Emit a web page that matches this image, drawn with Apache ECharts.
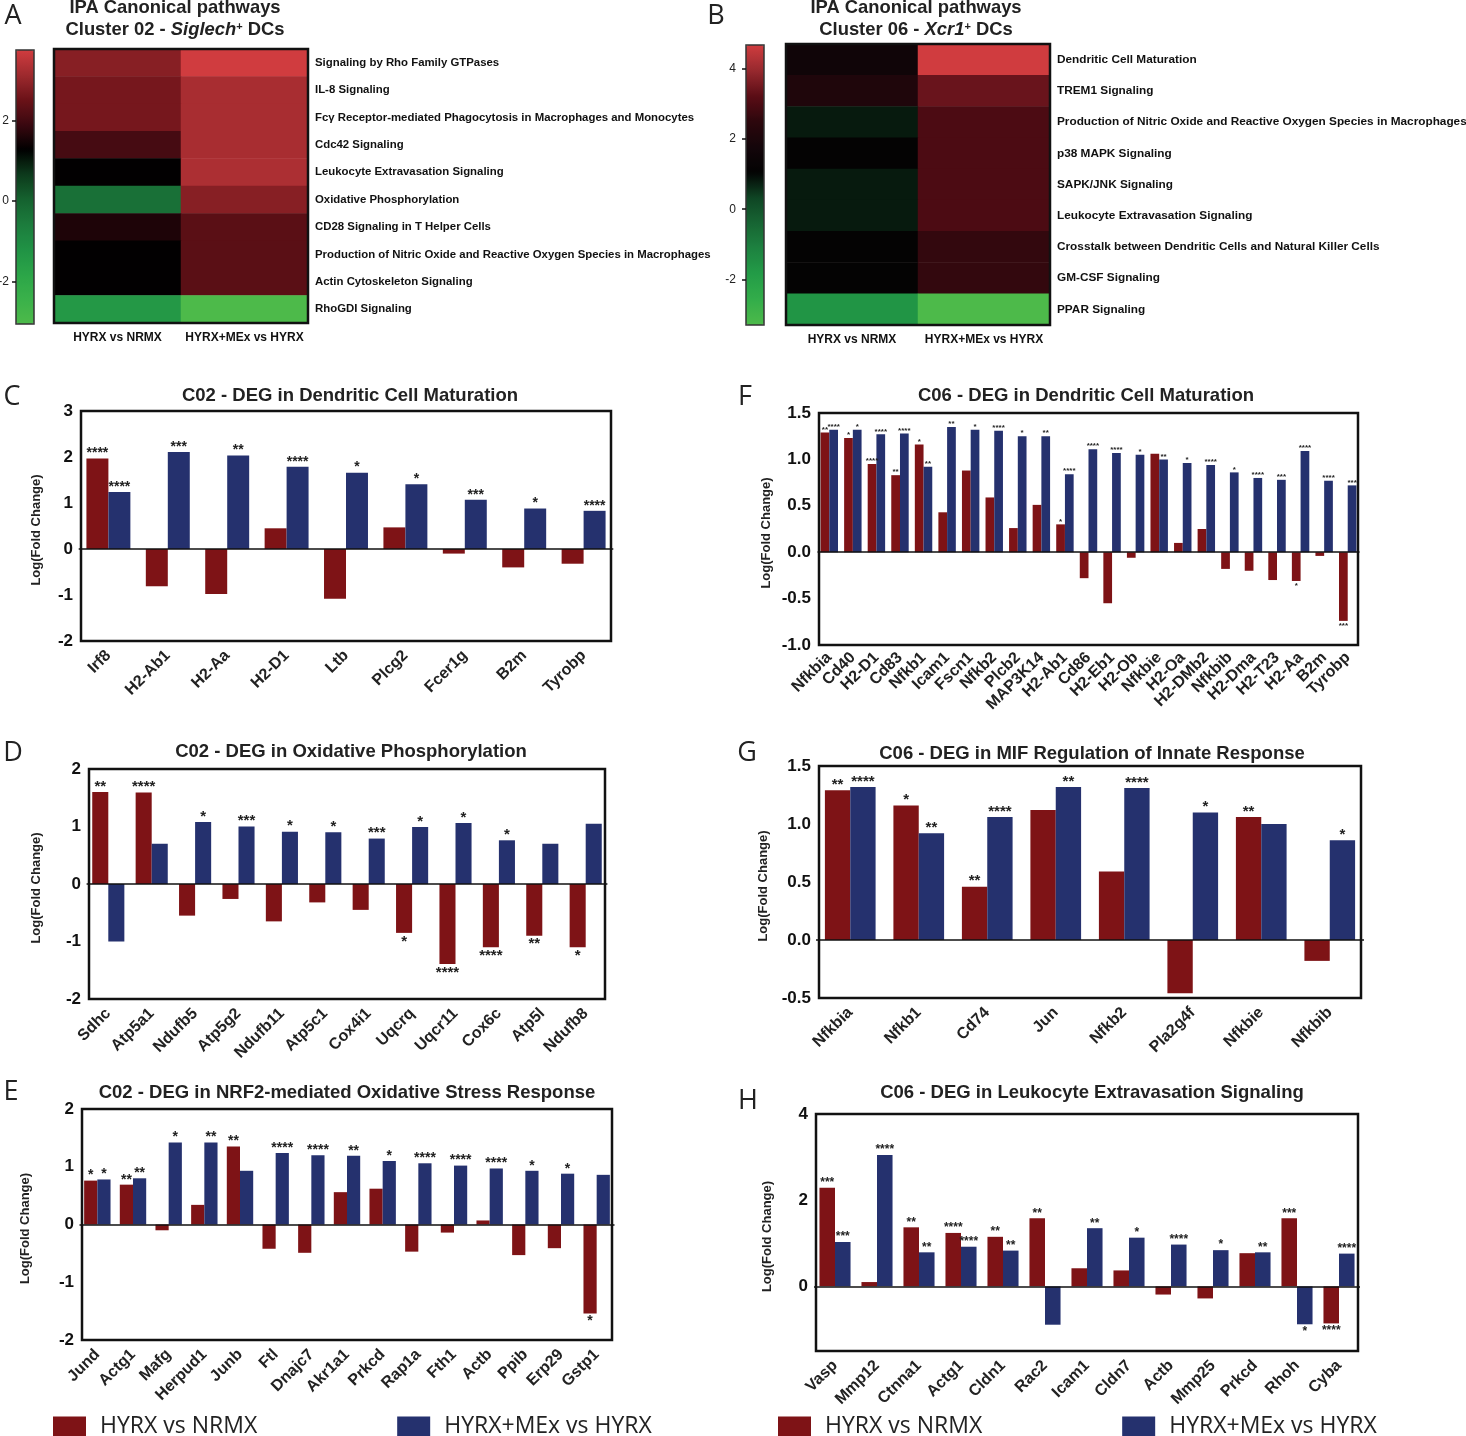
<!DOCTYPE html>
<html>
<head>
<meta charset="utf-8">
<style>
html, body { margin: 0; padding: 0; background: #fff; }
#main { width: 1466px; height: 1436px; }
</style>
<script src="https://cdn.jsdelivr.net/npm/echarts@6/dist/echarts.min.js"></script>
</head>
<body>
<div id="main"></div>
<script>
var groupA = 'HYRX vs NRMX';
var groupB = 'HYRX+MEx vs HYRX';

// heatmap A
var heatA_rows = ['Signaling by Rho Family GTPases', 'IL-8 Signaling', 'Fc\u03b3 Receptor-mediated Phagocytosis in Macrophages and Monocytes', 'Cdc42 Signaling', 'Leukocyte Extravasation Signaling', 'Oxidative Phosphorylation', 'CD28 Signaling in T Helper Cells', 'Production of Nitric Oxide and Reactive Oxygen Species in Macrophages', 'Actin Cytoskeleton Signaling', 'RhoGDI Signaling'];
var heatA_col1 = [2.85, 2.65, 2.65, 2.05, 1.3, -0.3, 1.6, 1.3, 1.3, -1.4];
var heatA_col2 = [3.75, 3.25, 3.25, 3.25, 3.3, 2.85, 2.3, 2.3, 2.3, -3.05];

// heatmap B
var heatB_rows = ['Dendritic Cell Maturation', 'TREM1 Signaling', 'Production of Nitric Oxide and Reactive Oxygen Species in Macrophages', 'p38 MAPK Signaling', 'SAPK/JNK Signaling', 'Leukocyte Extravasation Signaling', 'Crosstalk between Dendritic Cells and Natural Killer Cells', 'GM-CSF Signaling', 'PPAR Signaling'];
var heatB_col1 = [1.6, 2.1, 0.8, 1.1, 0.8, 0.8, 1.1, 1.1, -1.65];
var heatB_col2 = [4.68, 3.4, 3.0, 3.0, 3.0, 3.0, 2.6, 2.6, -3.3];

// C
var c_genes = ['Irf8', 'H2-Ab1', 'H2-Aa', 'H2-D1', 'Ltb', 'Plcg2', 'Fcer1g', 'B2m', 'Tyrobp'];
var c_red = [1.97, -0.81, -0.98, 0.45, -1.08, 0.47, -0.1, -0.4, -0.32];
var c_blue = [1.24, 2.11, 2.03, 1.79, 1.66, 1.41, 1.07, 0.88, 0.83];
var c_redStars = ['****', '', '', '', '', '', '', '', ''];
var c_blueStars = ['****', '***', '**', '****', '*', '*', '***', '*', '****'];

// D
var d_genes = ['Sdhc', 'Atp5a1', 'Ndufb5', 'Atp5g2', 'Ndufb11', 'Atp5c1', 'Cox4i1', 'Uqcrq', 'Uqcr11', 'Cox6c', 'Atp5l', 'Ndufb8'];
var d_red = [1.6, 1.59, -0.55, -0.26, -0.65, -0.32, -0.45, -0.85, -1.39, -1.1, -0.9, -1.1];
var d_blue = [-1.0, 0.7, 1.08, 1.0, 0.91, 0.9, 0.79, 0.99, 1.06, 0.76, 0.7, 1.05];
var d_redStars = ['**', '****', '', '', '', '', '', '*', '****', '****', '**', '*'];
var d_blueStars = ['', '', '*', '***', '*', '*', '***', '*', '*', '*', '', ''];

// E
var e_genes = ['Jund', 'Actg1', 'Mafg', 'Herpud1', 'Junb', 'Ftl', 'Dnajc7', 'Akr1a1', 'Prkcd', 'Rap1a', 'Fth1', 'Actb', 'Ppib', 'Erp29', 'Gstp1'];
var e_red = [0.76, 0.69, -0.1, 0.34, 1.35, -0.42, -0.49, 0.56, 0.62, -0.47, -0.14, 0.07, -0.53, -0.41, -1.54];
var e_blue = [0.78, 0.8, 1.42, 1.42, 0.93, 1.24, 1.2, 1.19, 1.1, 1.06, 1.02, 0.97, 0.93, 0.88, 0.86];
var e_redStars = ['*', '**', '', '', '**', '', '', '', '', '', '', '', '', '', '*'];
var e_blueStars = ['*', '**', '*', '**', '', '****', '****', '**', '*', '****', '****', '****', '*', '*', ''];

// F
var f_genes = ['Nfkbia', 'Cd40', 'H2-D1', 'Cd83', 'Nfkb1', 'Icam1', 'Fscn1', 'Nfkb2', 'Plcb2', 'MAP3K14', 'H2-Ab1', 'Cd86', 'H2-Eb1', 'H2-Ob', 'Nfkbie', 'H2-Oa', 'H2-DMb2', 'Nfkbib', 'H2-Dma', 'H2-T23', 'H2-Aa', 'B2m', 'Tyrobp'];
var f_red = [1.29, 1.23, 0.95, 0.83, 1.16, 0.43, 0.88, 0.59, 0.26, 0.51, 0.3, -0.28, -0.55, -0.06, 1.06, 0.1, 0.25, -0.18, -0.2, -0.3, -0.31, -0.04, -0.74];
var f_blue = [1.32, 1.32, 1.27, 1.28, 0.92, 1.35, 1.32, 1.31, 1.25, 1.25, 0.84, 1.11, 1.07, 1.05, 1.0, 0.96, 0.94, 0.86, 0.8, 0.78, 1.09, 0.77, 0.72];
var f_redStars = ['**', '*', '****', '**', '*', '', '', '', '', '', '*', '', '', '', '', '', '', '', '', '', '*', '', '***'];
var f_blueStars = ['****', '*', '****', '****', '**', '**', '*', '****', '*', '**', '****', '****', '****', '*', '**', '*', '****', '*', '****', '***', '****', '****', '***'];

// G
var g_genes = ['Nfkbia', 'Nfkb1', 'Cd74', 'Jun', 'Nfkb2', 'Pla2g4f', 'Nfkbie', 'Nfkbib'];
var g_red = [1.29, 1.16, 0.46, 1.12, 0.59, -0.46, 1.06, -0.18];
var g_blue = [1.32, 0.92, 1.06, 1.32, 1.31, 1.1, 1.0, 0.86];
var g_redStars = ['**', '*', '**', '', '', '', '**', ''];
var g_blueStars = ['****', '**', '****', '**', '****', '*', '', '*'];

// H
var h_genes = ['Vasp', 'Mmp12', 'Ctnna1', 'Actg1', 'Cldn1', 'Rac2', 'Icam1', 'Cldn7', 'Actb', 'Mmp25', 'Prkcd', 'Rhoh', 'Cyba'];
var h_red = [2.29, 0.1, 1.37, 1.24, 1.15, 1.58, 0.42, 0.37, -0.19, -0.28, 0.77, 1.58, -0.86];
var h_blue = [1.03, 3.05, 0.79, 0.92, 0.83, -0.89, 1.35, 1.13, 0.97, 0.84, 0.79, -0.88, 0.76];
var h_redStars = ['***', '', '**', '****', '**', '**', '', '', '', '', '', '***', '****'];
var h_blueStars = ['***', '****', '**', '****', '**', '', '**', '*', '****', '*', '**', '*', '****'];

var RED = '#7e1316';
var BLUE = '#25316e';
var SANS = '"Liberation Sans", Arial, sans-serif';
var LIGHT = '"Open Sans", "Noto Sans", sans-serif';

var paletteA = ['#4dba4a', '#3ab14a', '#2ba548', '#209245', '#1c7c3d', '#15622f', '#0d3a1c', '#000000', '#3a0810', '#6b1218', '#9e2a2e', '#d03c3f'];
var paletteB = ['#4dba4a', '#33ad4a', '#239c47', '#1d8240', '#176533', '#0f4524', '#030303', '#14050a', '#2d070d', '#5b0d16', '#97292e', '#d03c3f'];

var legendBase = {top: 1415, padding: 0, selectedMode: false, data: [groupA, groupB], icon: 'rect', itemWidth: 33, itemHeight: 20, itemGap: 140,
    textStyle: {fontFamily: LIGHT, fontSize: 23, color: '#222', padding: [0, 0, 0, 9]}};

var option = {
    animation: false,
    backgroundColor: '#fff',
    title: [],
    grid: [],
    xAxis: [],
    yAxis: [],
    visualMap: [],
    series: [],
    graphic: [],
    legend: [
        Object.assign({left: 53}, legendBase),
        Object.assign({left: 778}, legendBase)
    ]
};

function addText(text, x, y, size, family, weight, rich) {
    option.title.push({
        text: text, left: x, top: y, padding: 0,
        textAlign: 'center',
        textStyle: {fontFamily: family, fontSize: size, fontWeight: weight, color: '#222', rich: rich}
    });
}

function addHeatmap(rows, col1, col2, box, bar, palette, low, high) {
    var n = option.grid.length;
    var cells = [];
    rows.forEach(function (r, i) {
        cells.push([0, i, col1[i]]);
        cells.push([1, i, col2[i]]);
    });
    option.grid.push({left: box.x, top: box.y, width: box.w, height: box.h, show: true, z: 6, outerBoundsMode: 'none',
        borderColor: '#111', borderWidth: 2.5, backgroundColor: 'transparent'});
    option.xAxis.push({gridIndex: n, type: 'category', data: [groupA, groupB],
        axisLine: {show: false}, axisTick: {show: false},
        axisLabel: {interval: 0, fontFamily: SANS, fontWeight: 'bold', fontSize: 12, color: '#111', margin: 9}});
    option.yAxis.push({gridIndex: n, type: 'category', data: rows, inverse: true, position: 'right',
        axisLine: {show: false}, axisTick: {show: false},
        axisLabel: {interval: 0, fontFamily: SANS, fontWeight: 'bold', fontSize: box.rowSize, color: '#111', margin: 7}});
    option.series.push({type: 'heatmap', name: 'heat' + n, xAxisIndex: n, yAxisIndex: n, data: cells, silent: true});

    // colour bar and its scale
    option.visualMap.push({type: 'continuous', seriesIndex: option.series.length - 1, min: low, max: high, dimension: 2,
        left: bar.x, top: bar.y, itemWidth: bar.w, itemHeight: bar.h, padding: 0, calculable: false, z: 1,
        text: null, inRange: {color: palette}});
    var m = option.grid.length;
    option.grid.push({left: bar.x, top: bar.y, width: bar.w, height: bar.h, show: true, z: 6, outerBoundsMode: 'none',
        borderColor: '#333', borderWidth: 1.5, backgroundColor: 'transparent'});
    option.xAxis.push({gridIndex: m, type: 'value', show: false, min: 0, max: 1});
    option.yAxis.push({gridIndex: m, type: 'value', position: 'right', min: low, max: high, z: 7,
        axisLine: {show: false}, splitLine: {show: false},
        axisTick: {inside: true, length: 4, lineStyle: {color: '#111', width: 1.5}, customValues: bar.ticks},
        axisLabel: {inside: true, margin: bar.labelGap, fontFamily: SANS, fontSize: 12, color: '#222', customValues: bar.ticks}});
}

function addBars(genes, red, blue, redStars, blueStars, box, cfg) {
    var n = option.grid.length;
    // data area runs a little past the frame, as in the source figure
    option.grid.push({left: box.x - cfg.pad, top: box.y, width: box.w + 2 * cfg.pad, height: box.h, outerBoundsMode: 'none'});
    option.graphic.push({type: 'rect', z: 20, silent: true, shape: {x: box.x, y: box.y, width: box.w, height: box.h},
        style: {fill: 'none', stroke: '#111', lineWidth: 2.5}});
    option.xAxis.push({gridIndex: n, type: 'category', data: genes,
        axisLine: {onZero: false, show: false},
        axisTick: {alignWithLabel: true, length: 8, lineStyle: {color: '#111', width: 2}},
        axisLabel: {rotate: 45, interval: 0, fontFamily: SANS, fontWeight: 'bold', fontSize: 16, color: '#222', margin: cfg.geneGap}});
    var yLabel = {fontFamily: SANS, fontWeight: 'bold', fontSize: 17, color: '#111', margin: 8};
    if (cfg.decimals) {
        yLabel.formatter = function (v) { return v.toFixed(1); };
    }
    var axisTick = {length: 6, lineStyle: {color: '#111', width: 2}};
    if (cfg.customTicks) {
        yLabel.customValues = cfg.customTicks;
        axisTick.customValues = cfg.customTicks;
    }
    var y = {gridIndex: n, type: 'value', min: cfg.min, max: cfg.max, offset: -cfg.pad,
        name: 'Log(Fold Change)', nameLocation: 'middle', nameGap: cfg.nameGap,
        nameTextStyle: {fontFamily: SANS, fontWeight: 'bold', fontSize: 13, color: '#222', padding: [0, 8, 0, 0]},
        axisLine: {show: false}, splitLine: {show: false}, axisTick: axisTick, axisLabel: yLabel};
    if (cfg.interval) {
        y.interval = cfg.interval;
    }
    option.yAxis.push(y);

    function makeData(values, stars) {
        return values.map(function (v, i) {
            return {
                value: v,
                label: {
                    show: stars[i] !== '',
                    position: v >= 0 ? 'top' : 'bottom',
                    distance: v >= 0 ? cfg.starGap : 1,
                    formatter: stars[i]
                }
            };
        });
    }
    var label = {fontFamily: SANS, fontWeight: 'bold', fontSize: cfg.starSize, color: '#222'};
    option.series.push({type: 'bar', name: groupA, xAxisIndex: n, yAxisIndex: n, barGap: 0, barCategoryGap: '26%',
        itemStyle: {color: RED}, label: label, data: makeData(red, redStars), silent: true,
        markLine: {silent: true, symbol: 'none', label: {show: false}, animation: false,
            lineStyle: {color: '#111', width: 1.5, type: 'solid'}, data: [{yAxis: 0}]}});
    option.series.push({type: 'bar', name: groupB, xAxisIndex: n, yAxisIndex: n, barGap: 0, barCategoryGap: '26%',
        itemStyle: {color: BLUE}, label: label, data: makeData(blue, blueStars), silent: true});
}

// panel letters
addText('A', 13, 3, 27, LIGHT, 'normal');
addText('B', 716, 3, 27, LIGHT, 'normal');
addText('C', 12, 384, 27, LIGHT, 'normal');
addText('F', 745, 384, 27, LIGHT, 'normal');
addText('D', 13, 740, 27, LIGHT, 'normal');
addText('G', 747, 740, 27, LIGHT, 'normal');
addText('E', 11, 1079, 27, LIGHT, 'normal');
addText('H', 748, 1088, 27, LIGHT, 'normal');

// heatmap headings
var headRich = {
    i: {fontFamily: SANS, fontSize: 18.4, fontWeight: 'bold', fontStyle: 'italic', color: '#222'},
    s: {fontFamily: SANS, fontSize: 11, fontWeight: 'bold', color: '#222', verticalAlign: 'top', padding: [0, 0, 6, 0]}
};
addText('IPA Canonical pathways', 175, -1, 18.4, SANS, 'bold');
addText('Cluster 02 - {i|Siglech}{s|+} DCs', 175, 21, 18.4, SANS, 'bold', headRich);
addText('IPA Canonical pathways', 916, -1, 18.4, SANS, 'bold');
addText('Cluster 06 - {i|Xcr1}{s|+} DCs', 916, 21, 18.4, SANS, 'bold', headRich);

// bar chart headings
addText('C02 - DEG in Dendritic Cell Maturation', 350, 386, 18.5, SANS, 'bold');
addText('C02 - DEG in Oxidative Phosphorylation', 351, 742, 18.5, SANS, 'bold');
addText('C02 - DEG in NRF2-mediated Oxidative Stress Response', 347, 1083, 18.5, SANS, 'bold');
addText('C06 - DEG in Dendritic Cell Maturation', 1086, 386, 18.5, SANS, 'bold');
addText('C06 - DEG in MIF Regulation of Innate Response', 1092, 744, 18.5, SANS, 'bold');
addText('C06 - DEG in Leukocyte Extravasation Signaling', 1092, 1083, 18.5, SANS, 'bold');

addHeatmap(heatA_rows, heatA_col1, heatA_col2,
    {x: 54, y: 49, w: 254, h: 274, rowSize: 11.4},
    {x: 16, y: 50, w: 18, h: 274, ticks: [-2, 0, 2], labelGap: 25},
    paletteA, -3.05, 3.75);
addHeatmap(heatB_rows, heatB_col1, heatB_col2,
    {x: 786, y: 44, w: 264, h: 281, rowSize: 11.8},
    {x: 746, y: 45, w: 18, h: 280, ticks: [-2, 0, 2, 4], labelGap: 28},
    paletteB, -3.3, 4.68);

addBars(c_genes, c_red, c_blue, c_redStars, c_blueStars, {x: 81, y: 411, w: 530, h: 230},
    {pad: 2.3, min: -2, max: 3, interval: 1, nameGap: 38, geneGap: 12, starSize: 14, starGap: -2});
addBars(d_genes, d_red, d_blue, d_redStars, d_blueStars, {x: 89, y: 769, w: 516, h: 230},
    {pad: 2.4, min: -2, max: 2, interval: 1, nameGap: 46, geneGap: 12, starSize: 15, starGap: -2});
addBars(e_genes, e_red, e_blue, e_redStars, e_blueStars, {x: 82, y: 1109, w: 530, h: 231},
    {pad: 2.5, min: -2, max: 2, interval: 1, nameGap: 50, geneGap: 12, starSize: 14, starGap: -2});
addBars(f_genes, f_red, f_blue, f_redStars, f_blueStars, {x: 819, y: 413, w: 539, h: 232},
    {pad: 1.5, min: -1, max: 1.5, interval: 0.5, decimals: true, nameGap: 46, geneGap: 10, starSize: 8, starGap: -1});
addBars(g_genes, g_red, g_blue, g_redStars, g_blueStars, {x: 819, y: 766, w: 542, h: 232},
    {pad: 3, min: -0.5, max: 1.5, interval: 0.5, decimals: true, nameGap: 49, geneGap: 12, starSize: 15, starGap: -2});
addBars(h_genes, h_red, h_blue, h_redStars, h_blueStars, {x: 816, y: 1114, w: 542, h: 237},
    {pad: 2, min: -1.5, max: 4, customTicks: [0, 2, 4], nameGap: 42, geneGap: 12, starSize: 12, starGap: -1});

echarts.init(document.getElementById('main'), null, {renderer: 'canvas'}).setOption(option);
</script>
</body>
</html>
